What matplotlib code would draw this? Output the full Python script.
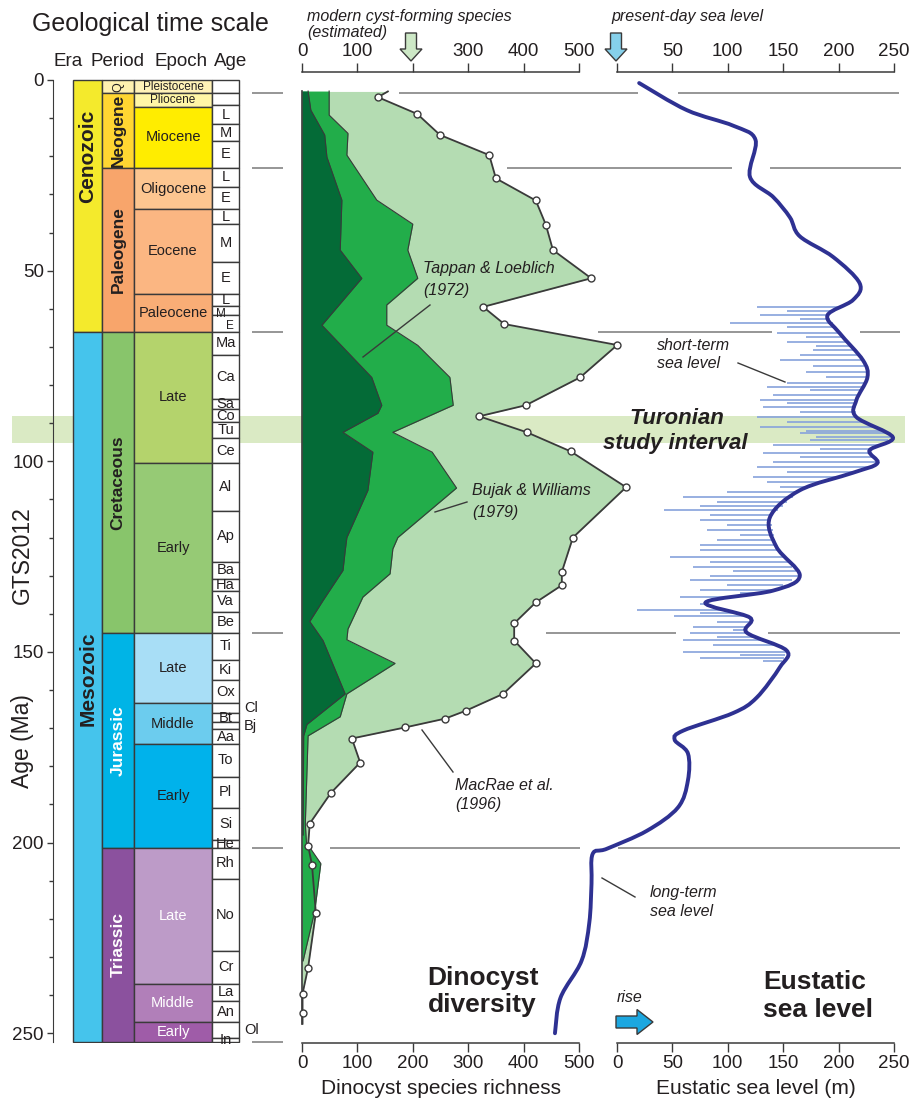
import numpy as np
import matplotlib.pyplot as plt
from matplotlib.patches import Rectangle, FancyArrow, PathPatch
from matplotlib.path import Path
from matplotlib.ticker import MultipleLocator

# ---------------------------------------------------------------- layout
W, H = 913, 1103
AX_TOP, AX_BOT = 72, 1043          # pixel rows of the top / bottom axis lines
AGE0_PX, PX_PER_MA = 80, 3.813     # 0 Ma row and vertical scale
YLIM = ((AX_BOT - AGE0_PX) / PX_PER_MA, (AX_TOP - AGE0_PX) / PX_PER_MA)

TEXT = "#231F20"
LINE = "#3A3A3A"
GREY = "#8E8E8E"
BAND = "#DAEAC4"

plt.rcParams["font.family"] = ["Liberation Sans", "DejaVu Sans"]

# ---------------------------------------------------------------- time scale
ERA_NAMES = ["Cenozoic", "Mesozoic"]
ERA_TOP = [0.0, 66.0]
ERA_BASE = [66.0, 252.17]
ERA_LABEL_AGE = [20.0, 157.0]
ERA_COLORS = ["#F4EA2C", "#45C4EC"]

PERIOD_NAMES = ["Q", "Neogene", "Paleogene", "Cretaceous", "Jurassic", "Triassic"]
PERIOD_TOP = [0.0, 3.5, 23.03, 66.0, 145.0, 201.3]
PERIOD_BASE = [3.5, 23.03, 66.0, 145.0, 201.3, 252.17]
PERIOD_COLORS = ["#FFF1B0", "#FFD632", "#F8A56B", "#88C56B", "#00B4E6", "#8B519E"]
PERIOD_TEXT = [TEXT, TEXT, TEXT, TEXT, "white", "white"]

EPOCH_NAMES = ["Pleistocene", "Pliocene", "Miocene", "Oligocene", "Eocene", "Paleocene",
               "Late", "Early", "Late", "Middle", "Early", "Late", "Middle", "Early"]
EPOCH_TOP = [0.0, 3.5, 7.0, 23.03, 33.9, 56.0, 66.0, 100.5, 145.0, 163.5, 174.1,
             201.3, 237.0, 247.1]
EPOCH_BASE = EPOCH_TOP[1:] + [252.17]
EPOCH_COLORS = ["#FFF2B8", "#FFF6A6", "#FFED00", "#FDC690", "#FBB682", "#F9AD76",
                "#B4D36C", "#96CA75", "#A8DEF6", "#6CCCEE", "#00B2EB",
                "#BD9BC8", "#B17FB9", "#9F5CA8"]
EPOCH_TEXT = [TEXT] * 11 + ["white"] * 3

STAGE_NAMES = ["", "", "L", "M", "E", "L", "E", "L", "M", "E", "L", "M", "E",
               "Ma", "Ca", "Sa", "Co", "Tu", "Ce", "Al", "Ap", "Ba", "Ha", "Va", "Be",
               "Ti", "Ki", "Ox", "Cl", "Bt", "Bj", "Aa", "To", "Pl", "Si", "He",
               "Rh", "No", "Cr", "La", "An", "Ol", "In"]
STAGE_TOP = [0.0, 3.3, 6.5, 11.63, 15.97, 23.03, 28.1, 33.9, 37.8, 47.8, 56.0, 59.2, 61.6,
             66.0, 72.1, 83.6, 86.3, 89.8, 93.9, 100.5, 113.0, 126.3, 130.8, 133.9, 139.4,
             145.0, 152.1, 157.3, 163.5, 166.1, 168.3, 170.3, 174.1, 182.7, 190.8, 199.3,
             201.3, 209.5, 228.4, 237.0, 241.5, 247.1, 251.2]
STAGE_BASE = STAGE_TOP[1:] + [252.17]
STAGE_OUTSIDE = ["Cl", "Bj", "Ol"]

BOUNDARY_AGES = [3.3, 23.03, 66.0, 145.0, 201.3, 252.17]

# ---------------------------------------------------------------- dinocyst richness
MACRAE_AGE = [3.0, 4.5, 8.9, 14.4, 19.7, 25.8, 31.6, 37.9, 44.6, 52.0, 59.5, 64.0,
              69.5, 78.0, 85.3, 88.2, 92.4, 97.4, 106.8, 120.0, 129.0, 132.5, 137.0,
              142.5, 147.0, 153.0, 161.0, 165.4, 167.5, 169.8, 172.7, 179.0, 187.0,
              195.0, 200.8, 205.8, 218.4, 232.8, 239.6, 244.8, 247.5]
MACRAE_VAL = [155, 137, 208, 249, 338, 350, 422, 440, 453, 522, 327, 365,
              569, 502, 404, 320, 406, 485, 585, 489, 469, 469, 422,
              383, 383, 422, 363, 296, 258, 186, 90, 105, 52,
              14, 11, 18, 25, 11, 1, 1, 1]

BUJAK_AGE = [2.9, 9.2, 14.0, 19.7, 31.5, 37.8, 44.6, 52.0, 59.0, 64.3, 69.6, 78.0,
             85.3, 92.4, 97.6, 107.0, 120.0, 123.0, 129.5, 135.6, 144.0, 146.8, 153.0,
             161.0, 167.0, 172.0, 195.0, 200.0, 205.5, 218.0, 231.0]
BUJAK_VAL = [49, 49, 83, 81, 135, 200, 191, 209, 153, 153, 209, 267,
             273, 164, 235, 279, 173, 164, 159, 110, 83, 81, 168,
             81, 69, 11, 6, 8, 34, 23, 2]

TAPPAN_AGE = [2.9, 7.9, 14.4, 20.2, 31.5, 44.6, 52.0, 64.3, 78.0, 85.3, 87.4, 92.4,
              97.6, 107.6, 120.0, 123.4, 128.6, 136.5, 142.0, 147.0, 161.0, 169.0,
              172.0, 198.0]
TAPPAN_VAL = [11, 16, 41, 45, 72, 69, 108, 36, 126, 144, 137, 74,
              128, 119, 81, 78, 74, 38, 14, 38, 78, 9,
              3, 2]

DIV_TICKS = [0, 100, 200, 300, 400, 500]

# ---------------------------------------------------------------- sea level
LONG_AGE = [0.8, 7.9, 12.0, 15.7, 25.4, 30.7, 36.0, 41.0, 46.4, 53.3, 57.7, 61.7,
            66.4, 73.5, 78.0, 84.0, 88.4, 93.7, 97.1, 100.5, 103.0, 107.6, 114.7,
            122.5, 130.0, 133.9, 137.0, 141.0, 144.9, 149.6, 154.0, 162.0, 166.0,
            170.6, 173.0, 176.6, 183.7, 190.8, 196.9, 201.6, 203.0, 210.8, 221.0,
            231.0, 240.7, 250.0]
LONG_VAL = [20, 63, 105, 125, 120, 141, 156, 165, 195, 219, 213, 190,
            201, 222, 226, 216, 216, 249, 228, 235, 213, 165, 138,
            144, 165, 141, 80, 120, 117, 153, 147, 126, 105,
            60, 52, 64, 64, 55, 27, -9, -22, -23, -25,
            -32, -51, -56]

# short-term lowstand spikes (tip of each spike)
SHORT_AGE = [59.5, 60.5, 61.6, 62.7, 63.8, 64.9, 66.4, 67.5, 68.6, 69.8, 70.8, 72.1,
             73.4, 75.0, 76.5, 78.0, 79.5, 80.6, 81.3, 82.6, 83.9, 84.8, 85.7, 87.0,
             88.3, 89.6, 90.9, 92.0, 92.7, 93.5, 94.4, 95.7, 96.9, 97.9, 99.0, 100.1,
             101.4, 102.7, 104.0, 105.4, 106.7, 108.0, 109.3, 110.6, 111.7, 112.8, 114.1,
             115.4, 116.7, 118.0, 119.3, 120.6, 121.9, 123.3, 125.0, 126.3, 127.6, 128.9,
             130.0, 131.1, 132.4, 133.7, 134.6, 135.5, 137.3, 139.0, 139.9, 140.7, 142.1,
             143.4, 144.2, 145.1, 146.0, 146.9, 148.2, 149.9, 150.8, 151.6, 152.5]
SHORT_VAL = [126, 153, 129, 165, 102, 153, 144, 171, 153, 180, 177, 165,
             147, 177, 171, 189, 153, 135, 174, 141, 129, 153, 132, 165,
             126, 153, 129, 171, 165, 180, 174, 141, 183, 132, 165, 141,
             126, 153, 123, 135, 147, 99, 60, 90, 75, 42, 84,
             75, 99, 81, 111, 90, 75, 75, 48, 84, 69, 105,
             84, 66, 99, 75, 111, 57, 75, 18, 75, 51, 90,
             69, 105, 66, 90, 60, 87, 60, 111, 75, 132]

SL_TICKS = [0, 50, 100, 150, 200, 250]

# ---------------------------------------------------------------- helpers
def rect(left, top, right, bottom):
    return [left / W, 1 - bottom / H, (right - left) / W, (bottom - top) / H]


def smooth_path(xs, ys):
    """Catmull-Rom curve through the points, as cubic Bezier segments."""
    p = np.column_stack([xs, ys]).astype(float)
    p = np.vstack([p[0], p, p[-1]])
    verts, codes = [p[1]], [Path.MOVETO]
    for i in range(1, len(p) - 2):
        c1 = p[i] + (p[i + 1] - p[i - 1]) / 6
        c2 = p[i + 1] - (p[i + 2] - p[i]) / 6
        verts += [c1, c2, p[i + 1]]
        codes += [Path.CURVE4] * 3
    return Path(verts, codes)


fig = plt.figure(figsize=(W / 100, H / 100), dpi=100)

ax_bg = fig.add_axes(rect(0, AX_TOP, W, AX_BOT), zorder=0)
ax_bg.set_xlim(0, W)
ax_bg.set_ylim(*YLIM)
ax_bg.axis("off")

ax_ts = fig.add_axes(rect(53, AX_TOP, 290, AX_BOT), zorder=1)
ax_div = fig.add_axes(rect(302, AX_TOP, 579, AX_BOT), zorder=2)
ax_sl = fig.add_axes(rect(617, AX_TOP, 894, AX_BOT), zorder=3)
ax_txt = fig.add_axes(rect(0, 0, W, H), zorder=5)
ax_txt.set_xlim(0, W)
ax_txt.set_ylim(H, 0)
ax_txt.axis("off")
for ax in (ax_ts, ax_div, ax_sl):
    ax.set_facecolor("none")
    ax.set_ylim(*YLIM)

# Turonian band + boundary lines
ax_bg.fill_between([12, 905], 88.2, 95.3, color=BAND, lw=0)
segments = {
    3.3: [(399, 638), (678, 899)],
    23.03: [(507, 732), (770, 901)],
    66.0: [(598, 772), (860, 900)],
    145.0: [(546, 676), (768, 900)],
    201.3: [(330, 580), (618, 900)],
}
for age in BOUNDARY_AGES:
    ax_bg.hlines(age, 252, 283, color=GREY, lw=1.3)
    for x0, x1 in segments.get(age, []):
        ax_bg.hlines(age, x0, x1, color=GREY, lw=1.3)

# ---------------------------------------------------------------- time scale columns
ax_ts.set_xlim(53, 290)


def draw_column(x0, x1, tops, bases, colors):
    for t, b, c in zip(tops, bases, colors):
        ax_ts.add_patch(Rectangle((x0, t), x1 - x0, b - t, facecolor=c,
                                  edgecolor=LINE, lw=1.0))


draw_column(73, 102, ERA_TOP, ERA_BASE, ERA_COLORS)
draw_column(102, 134, PERIOD_TOP, PERIOD_BASE, PERIOD_COLORS)
draw_column(134, 212, EPOCH_TOP, EPOCH_BASE, EPOCH_COLORS)
draw_column(212, 239, STAGE_TOP, STAGE_BASE, ["white"] * len(STAGE_TOP))

for name, a in zip(ERA_NAMES, ERA_LABEL_AGE):
    ax_ts.text(88, a, name, rotation=90, ha="center", va="center", fontsize=15,
               fontweight="bold", color=TEXT)
for name, t, b, c in zip(PERIOD_NAMES, PERIOD_TOP, PERIOD_BASE, PERIOD_TEXT):
    ax_ts.text(118, (t + b) / 2, name, rotation=90, ha="center", va="center",
               fontsize=9 if name == "Q" else 12.5,
               fontweight="normal" if name == "Q" else "bold", color=c)
for name, t, b, c in zip(EPOCH_NAMES, EPOCH_TOP, EPOCH_BASE, EPOCH_TEXT):
    small = name in ("Pleistocene", "Pliocene")
    ax_ts.text(173, (t + b) / 2, name, ha="center", va="center",
               fontsize=8.5 if small else 10.5, color=c)

# squeezed Paleocene stages are staggered as in the chart
stage_shift = {11: (-5, 1.0), 12: (4, 0.6)}
for i, (name, t, b) in enumerate(zip(STAGE_NAMES, STAGE_TOP, STAGE_BASE)):
    if name in STAGE_OUTSIDE:
        ax_ts.text(244, (t + b) / 2, name, ha="left", va="center", fontsize=10.5, color=TEXT)
    else:
        dx, dy = stage_shift.get(i, (0, 0))
        ax_ts.text(225.5 + dx, (t + b) / 2 + dy, name, ha="center", va="center",
                   fontsize=8.5 if i in stage_shift else 10.5, color=TEXT)

for s in ("top", "right", "bottom"):
    ax_ts.spines[s].set_visible(False)
ax_ts.spines["left"].set_bounds(0, 252.17)
ax_ts.spines["left"].set_color(LINE)
ax_ts.set_xticks([])
ax_ts.set_yticks(range(0, 251, 50))
ax_ts.yaxis.set_minor_locator(MultipleLocator(10))
ax_ts.tick_params(axis="y", which="major", length=4.5, width=1, color=LINE,
                  labelsize=13.5, labelcolor=TEXT, pad=2)
ax_ts.tick_params(axis="y", which="minor", length=3, width=1, color=LINE)

# ---------------------------------------------------------------- dinocyst panel
ax_div.set_xlim(0, 500)
for s in ("left", "right"):
    ax_div.spines[s].set_visible(False)
ax_div.set_yticks([])
ax_div.fill_betweenx(MACRAE_AGE, 0, MACRAE_VAL, color="#B4DCB2", lw=0, clip_on=False, zorder=1)
ax_div.fill_betweenx(BUJAK_AGE, 0, BUJAK_VAL, color="#22AD4A", lw=0, clip_on=False, zorder=2)
ax_div.fill_betweenx(TAPPAN_AGE, 0, TAPPAN_VAL, color="#046B37", lw=0, clip_on=False, zorder=3)
ax_div.plot(BUJAK_VAL, BUJAK_AGE, color=LINE, lw=0.8, clip_on=False, zorder=3)
ax_div.plot(TAPPAN_VAL, TAPPAN_AGE, color=LINE, lw=0.8, clip_on=False, zorder=4)
ax_div.plot([0, 0], [TAPPAN_AGE[0], MACRAE_AGE[-1]], color=LINE, lw=1.2, clip_on=False, zorder=4)
ax_div.plot(MACRAE_VAL, MACRAE_AGE, color=LINE, lw=1.3, clip_on=False, zorder=5)
ax_div.plot(MACRAE_VAL[1:-1], MACRAE_AGE[1:-1], "o", ms=5, mfc="white", mec=LINE,
            mew=1.0, clip_on=False, zorder=6)

# ---------------------------------------------------------------- sea level panel
ax_sl.set_xlim(0, 250)
for s in ("left", "right"):
    ax_sl.spines[s].set_visible(False)
ax_sl.set_yticks([])
bases = np.interp(SHORT_AGE, LONG_AGE, LONG_VAL)
ax_sl.hlines(SHORT_AGE, SHORT_VAL, bases, color="#86A2DB", lw=1.2, clip_on=False, zorder=1)
ax_sl.add_patch(PathPatch(smooth_path(LONG_VAL, LONG_AGE), fill=False, ec="#2E3192",
                          lw=2.8, clip_on=False, zorder=2, capstyle="round"))

for ax, ticks, hidden, label in ((ax_div, DIV_TICKS, 200, "Dinocyst species richness"),
                                 (ax_sl, SL_TICKS, 0, "Eustatic sea level (m)")):
    ax.set_xticks(ticks)
    ax.tick_params(axis="x", top=True, labeltop=True, direction="out", length=6.5,
                   width=1, color=LINE, labelsize=13.5, labelcolor=TEXT, pad=2)
    for s in ("top", "bottom"):
        ax.spines[s].set_color(LINE)
        ax.spines[s].set_linewidth(1.1)
    for t, loc in zip(ax.xaxis.get_major_ticks(), ticks):
        if loc == hidden:
            t.label2.set_visible(False)
    ax.set_xlabel(label, fontsize=15, color=TEXT, labelpad=5)

# ---------------------------------------------------------------- texts and arrows
T = ax_txt
T.text(150, 24, "Geological time scale", ha="center", va="center", fontsize=18, color=TEXT)
for s, x in (("Era", 68), ("Period", 118), ("Epoch", 181), ("Age", 231)):
    T.text(x, 61, s, ha="center", va="center", fontsize=13.5, color=TEXT)
T.text(22, 555, "GTS2012", rotation=90, ha="center", va="center", fontsize=16.5, color=TEXT)
T.text(22, 741, "Age (Ma)", rotation=90, ha="center", va="center", fontsize=16.5, color=TEXT)

it = dict(fontsize=11.5, style="italic", color=TEXT, va="center", ha="left")
T.text(307, 17, "modern cyst-forming species", **it)
T.text(307, 33, "(estimated)", **it)
T.text(611, 17, "present-day sea level", **it)
T.text(423, 268, "Tappan & Loeblich", **it)
T.text(423, 290, "(1972)", **it)
T.text(472, 491, "Bujak & Williams", **it)
T.text(472, 512, "(1979)", **it)
T.text(455, 785, "MacRae et al.", **it)
T.text(455, 805, "(1996)", **it)
T.text(657, 345, "short-term", **it)
T.text(657, 364, "sea level", **it)
T.text(650, 892, "long-term", **it)
T.text(650, 912, "sea level", **it)
T.text(617, 997, "rise", **it)

for (x0, y0), (x1, y1) in (((363, 357), (430, 305)), ((435, 512), (467, 502)),
                           ((422, 730), (453, 772)), ((738, 363), (785, 382)),
                           ((602, 878), (635, 897))):
    T.plot([x0, x1], [y0, y1], color=LINE, lw=1.0)

bi = dict(fontsize=16, fontweight="bold", style="italic", color=TEXT, ha="center", va="center")
T.text(677, 418, "Turonian", **bi)
T.text(675, 443, "study interval", **bi)

bd = dict(fontsize=19, fontweight="bold", color=TEXT, ha="left", va="center")
T.text(427, 978, "Dinocyst", **bd)
T.text(428, 1005, "diversity", **bd)
T.text(763, 982, "Eustatic", **bd)
T.text(763, 1010, "sea level", **bd)

T.add_patch(FancyArrow(411, 33, 0, 28, width=11, head_width=22, head_length=12,
                       length_includes_head=True, fc="#CDE8C6", ec=LINE, lw=1.0))
T.add_patch(FancyArrow(616, 33, 0, 28, width=11, head_width=22, head_length=12,
                       length_includes_head=True, fc="#86D0EA", ec=LINE, lw=1.0))
T.add_patch(FancyArrow(616, 1022, 37, 0, width=12, head_width=25, head_length=16,
                       length_includes_head=True, fc="#1CA7E0", ec=LINE, lw=1.0))

fig.savefig("out.png", dpi=100, facecolor="white")
